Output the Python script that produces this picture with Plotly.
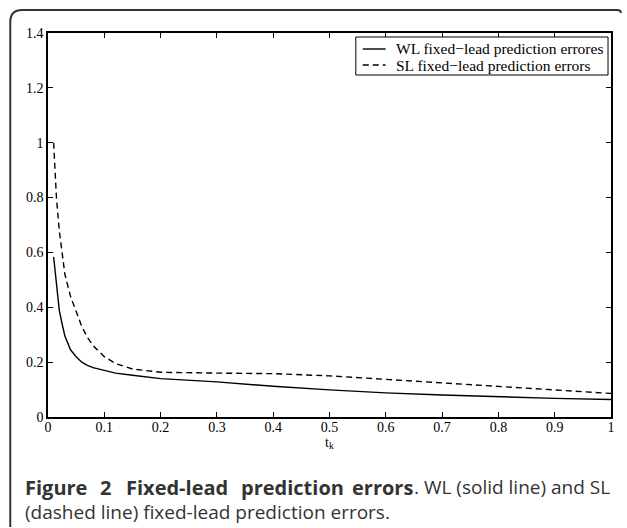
import plotly.graph_objects as go

# ---- data ----
t_k = [0.01, 0.015, 0.02, 0.025, 0.03, 0.04, 0.05, 0.06, 0.07, 0.08, 0.1, 0.12,
       0.15, 0.2, 0.3, 0.4, 0.5, 0.6, 0.7, 0.8, 0.9, 1.0]
wl_errors = [0.584, 0.48, 0.39, 0.34, 0.295, 0.245, 0.22, 0.20, 0.188, 0.18, 0.17, 0.16,
             0.152, 0.14, 0.128, 0.112, 0.099, 0.088, 0.080, 0.073, 0.068, 0.064]
sl_errors = [1.00, 0.80, 0.68, 0.59, 0.52, 0.44, 0.385, 0.33, 0.29, 0.26, 0.22, 0.195,
             0.175, 0.163, 0.160, 0.158, 0.150, 0.137, 0.125, 0.110, 0.097, 0.086]
series_names = ["WL fixed\u2212lead prediction errores", "SL fixed\u2212lead prediction errors"]
x_ticks = [0, 0.1, 0.2, 0.3, 0.4, 0.5, 0.6, 0.7, 0.8, 0.9, 1]
x_tick_labels = ["0", "0.1", "0.2", "0.3", "0.4", "0.5", "0.6", "0.7", "0.8", "0.9", "1"]
y_ticks = [0, 0.2, 0.4, 0.6, 0.8, 1, 1.2, 1.4]
y_tick_labels = ["0", "0.2", "0.4", "0.6", "0.8", "1", "1.2", "1.4"]
x_title = "t<sub>k</sub>"
caption_bold_words = ["Figure", "2", "Fixed-lead", "prediction", "errors"]
caption_rest1 = ". WL (solid line) and SL"
caption_line2 = "(dashed line) fixed-lead prediction errors."

W, H = 627, 528
L, R, T, B = 48, 12, 33, 111
pw, ph = W - L - R, H - T - B


def px(x):
    return (x - L) / pw


def py(y):
    return (H - B - y) / ph


serif = "Liberation Serif"
dashes = [None, "6px,4px"]
fig = go.Figure()
for name, ys, dash in zip(series_names, [wl_errors, sl_errors], dashes):
    fig.add_trace(go.Scatter(x=t_k, y=ys, mode="lines", name=name, showlegend=False,
                             line=dict(color="black", width=1.4, dash=dash)))

axis_common = dict(showline=True, linecolor="black", linewidth=1.5, mirror="allticks",
                   ticks="inside", ticklen=5, tickwidth=1, tickcolor="black",
                   showgrid=False, zeroline=False,
                   tickfont=dict(family=serif, size=14, color="black"))
fig.update_xaxes(range=[0, 1], tickvals=x_ticks, ticktext=x_tick_labels,
                 ticklabelstandoff=-4,
                 title=dict(text=x_title, font=dict(family=serif, size=14, color="black"), standoff=0),
                 **axis_common)
fig.update_yaxes(range=[0, 1.4], tickvals=y_ticks, ticktext=y_tick_labels, **axis_common)

# outer rounded frame (left + top edges)
r = 12
x0, y0, x1, y1 = 10, 10, 625, 527
path = (f"M {px(x0)} {py(y1)} L {px(x0)} {py(y0 + r)} "
        f"Q {px(x0)} {py(y0)} {px(x0 + r)} {py(y0)} L {px(x1 - 4)} {py(y0)} "
        f"Q {px(x1)} {py(y0)} {px(x1)} {py(y0 + 3)}")
fig.add_shape(type="path", path=path, xref="paper", yref="paper",
              line=dict(color="#333333", width=2))

# legend box (MATLAB style)
fig.add_shape(type="rect", xref="paper", yref="paper",
              x0=px(358), x1=px(612), y0=py(75), y1=py(37),
              line=dict(color="black", width=1), fillcolor="white", layer="above")
for i, (name, dash) in enumerate(zip(series_names, dashes)):
    yy = 49 + 16 * i
    fig.add_shape(type="line", xref="paper", yref="paper",
                  x0=px(365), x1=px(388), y0=py(yy), y1=py(yy), layer="above",
                  line=dict(color="black", width=1.4, dash=dash or "solid"))
    fig.add_annotation(text=name, x=px(396), y=py(yy), xref="paper", yref="paper",
                       xanchor="left", yanchor="middle", showarrow=False,
                       font=dict(family=serif, size=15.5, color="black"))

# caption, line 1 justified across the frame width
cap_font = dict(family="Open Sans", size=19, color="#333333")
bold_font = dict(family="Open Sans", size=20, color="#333333")
word_pos = [(23, "left"), (106, "center"), (178, "center"), (294, "center"), (418, "right")]
for w, (xw, anc) in zip(caption_bold_words, word_pos):
    fig.add_annotation(text=f"<b>{w}</b>", x=px(xw), y=py(487), xref="paper", yref="paper",
                       xanchor=anc, yanchor="middle", showarrow=False, font=bold_font)
fig.add_annotation(text=caption_rest1, x=px(616), y=py(487), xref="paper", yref="paper",
                   xanchor="right", yanchor="middle", showarrow=False, font=cap_font)
fig.add_annotation(text=caption_line2, x=px(23), y=py(512), xref="paper", yref="paper",
                   xanchor="left", yanchor="middle", showarrow=False, font=cap_font)

fig.update_layout(
    width=W, height=H, margin=dict(l=L, r=R, t=T, b=B),
    paper_bgcolor="white", plot_bgcolor="white",
    showlegend=False,
)
fig.write_html("out.html")
